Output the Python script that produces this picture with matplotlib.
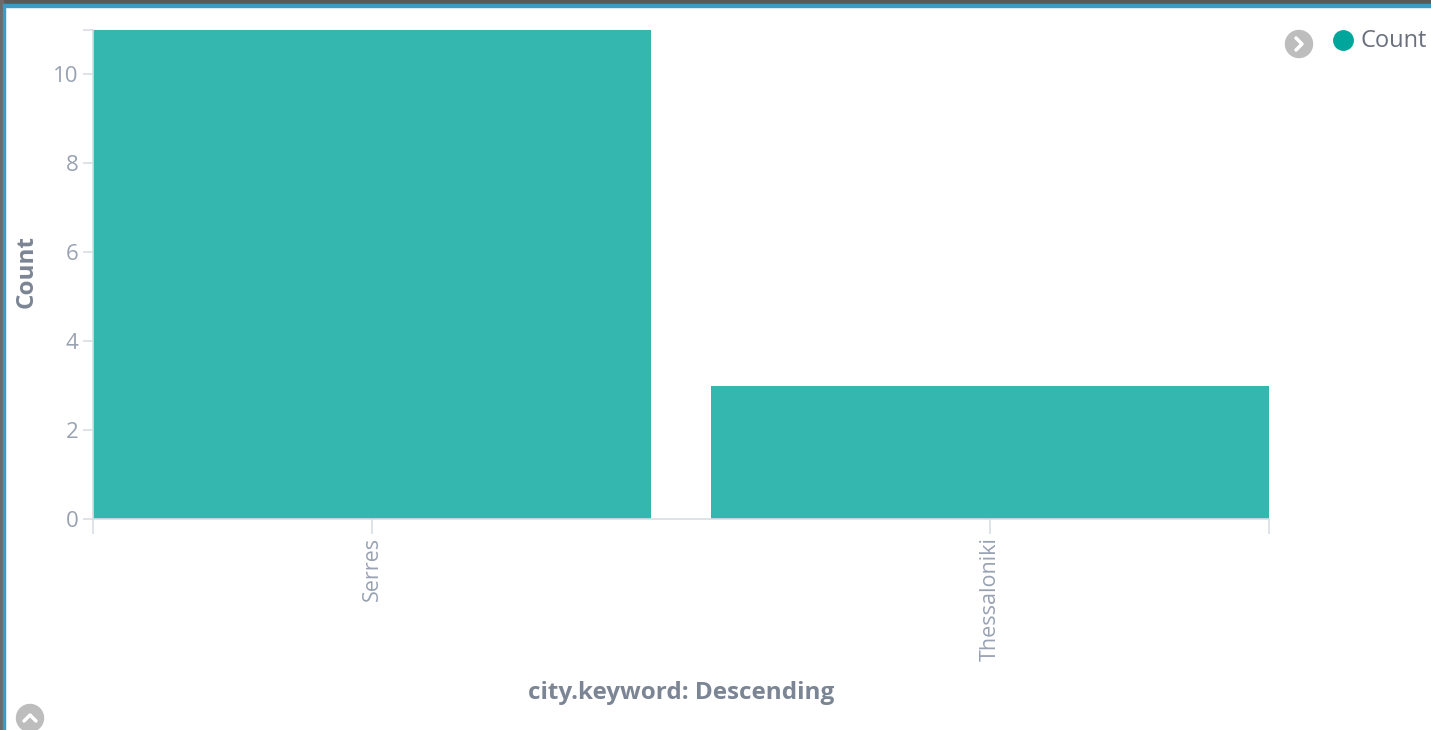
import matplotlib
matplotlib.use("Agg")
import matplotlib.pyplot as plt
import matplotlib.patches as mpatches
from matplotlib.lines import Line2D

# Data
cities = ["Serres", "Thessaloniki"]
counts = [11, 3]
y_ticks = [0, 2, 4, 6, 8, 10]

BAR_COLOR = "#33b7af"
DOT_COLOR = "#00a69b"
AXIS_COLOR = "#d9dde3"
TICK_TEXT = "#98a2b3"
LABEL_TEXT = "#7b8594"

plt.rcParams["font.family"] = ["Open Sans", "DejaVu Sans"]

fig = plt.figure(figsize=(14.31, 7.30), dpi=100)
fig.patch.set_facecolor("white")

# axes placed in pixel terms (left 93, right 1269, top 29.5, bottom 519)
W, H = 1431, 730
ax = fig.add_axes([93 / W, (H - 519) / H, (1269 - 93) / W, (519 - 29.5) / H])

x = list(range(len(cities)))
ax.bar(x, counts, width=0.903, color=BAR_COLOR, edgecolor="none")

ax.set_xlim(-0.4515, len(cities) - 1 + 0.4515)
ax.set_ylim(0, 11)

for side in ["top", "right"]:
    ax.spines[side].set_visible(False)
for side in ["left", "bottom"]:
    ax.spines[side].set_color(AXIS_COLOR)
    ax.spines[side].set_linewidth(1.2)

ax.set_yticks(y_ticks)
ax.set_yticklabels([str(v) for v in y_ticks])
ax.set_yticks([11], minor=True)
ax.tick_params(axis="y", which="both", length=7.5, width=1.2, color=AXIS_COLOR,
               labelcolor=TICK_TEXT, labelsize=16, pad=3)

ax.set_xticks(x)
ax.set_xticklabels(cities, rotation=90)
ax.set_xticks(list(ax.get_xlim()), minor=True)
ax.tick_params(axis="x", which="both", length=11, width=1.2, color=AXIS_COLOR,
               labelcolor=TICK_TEXT, labelsize=15.5, pad=2)

ax.set_ylabel("Count", fontsize=17.5, fontweight="bold", color=LABEL_TEXT)
ax.yaxis.set_label_coords(-0.046, 0.505)
ax.set_xlabel("city.keyword: Descending", fontsize=17.5, fontweight="bold", color=LABEL_TEXT)
ax.xaxis.set_label_coords(0.5, -0.331)

# legend: dot + text at top right
fig.add_artist(Line2D([1343 / W], [(H - 40) / H], marker="o", markersize=14,
                      color=DOT_COLOR, transform=fig.transFigure))
fig.text(1360 / W, (H - 41) / H, "Count", fontsize=17, color="#6a717d",
         ha="left", va="center")

# small round icons (legend toggle and collapse)
def round_icon(cx, cy, direction):
    t = fig.dpi_scale_trans
    fig.add_artist(mpatches.Circle((cx / 100, (H - cy) / 100), 0.135,
                                   color="#bdbdbd", transform=t))
    if direction == "right":
        xs = [cx - 3, cx + 3, cx - 3]
        ys = [cy - 6, cy, cy + 6]
    else:
        xs = [cx - 6, cx, cx + 6]
        ys = [cy + 3, cy - 3, cy + 3]
    fig.add_artist(Line2D([v / 100 for v in xs], [(H - v) / 100 for v in ys],
                          color="white", lw=2.5, transform=t,
                          solid_capstyle="round", solid_joinstyle="round"))

round_icon(1299, 44, "right")
round_icon(30, 718, "up")

# window frame: dark band and blue line at top and left
fig.add_artist(mpatches.Rectangle((0, 1 - 4 / H), 1, 4 / H, color="#595959",
                                  transform=fig.transFigure))
fig.add_artist(mpatches.Rectangle((0, 1 - 7 / H), 1, 3 / H, color="#3b9bc6",
                                  transform=fig.transFigure))
fig.add_artist(mpatches.Rectangle((0, 0), 3 / W, 1, color="#6b6b6b",
                                  transform=fig.transFigure))
fig.add_artist(mpatches.Rectangle((3 / W, 0), 2 / W, 1 - 4 / H, color="#3b9bc6",
                                  transform=fig.transFigure))

fig.savefig("out.png", dpi=100, facecolor="white")
